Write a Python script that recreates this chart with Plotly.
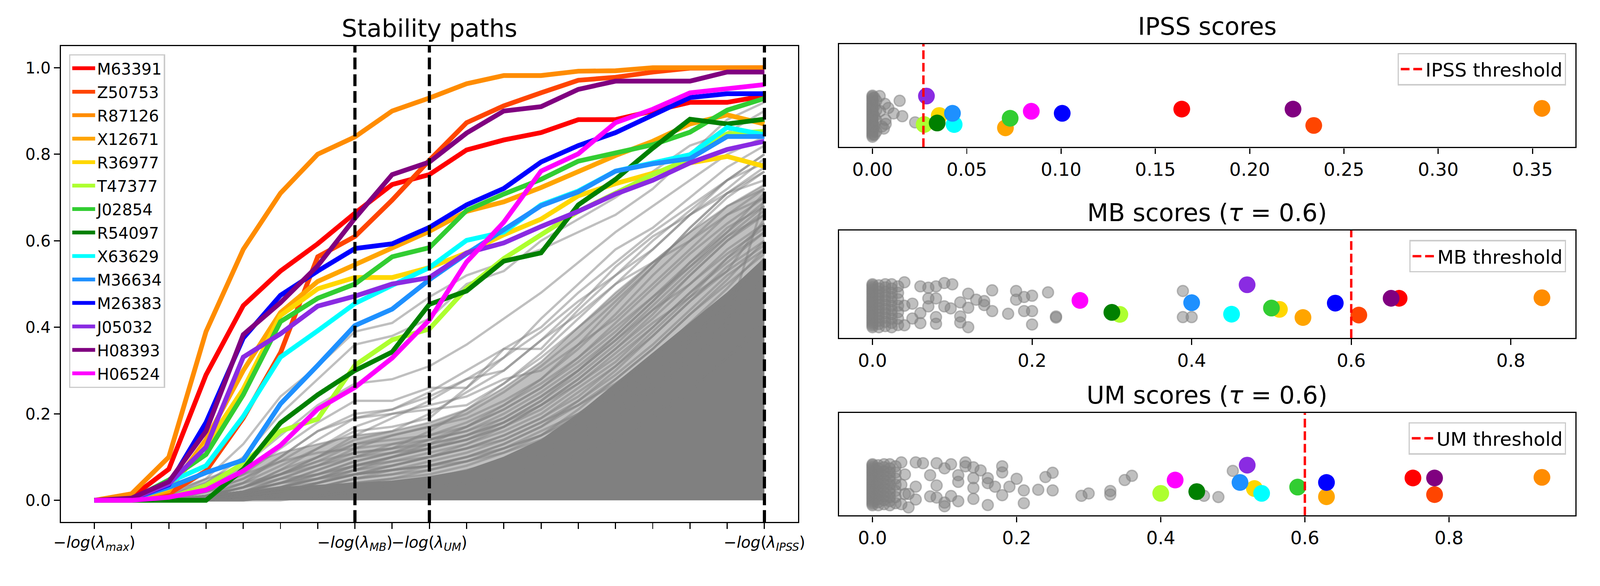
import plotly.graph_objects as go

# ---------------- data ----------------
lambda_idx = list(range(19))
tick_labels = ["−<i>log</i>(<i>λ</i><sub><i>max</i></sub>)", "", "", "", "", "", "",
               "−<i>log</i>(<i>λ</i><sub><i>MB</i></sub>)", "",
               "−<i>log</i>(<i>λ</i><sub><i>UM</i></sub>)", "", "", "", "", "", "", "", "",
               "−<i>log</i>(<i>λ</i><sub><i>IPSS</i></sub>)"]
vline_idx = [7, 9, 18]

genes = ["M63391", "Z50753", "R87126", "X12671", "R36977", "T47377", "J02854",
         "R54097", "X63629", "M36634", "M26383", "J05032", "H08393", "H06524"]
colors = ["red", "orangered", "darkorange", "orange", "gold", "greenyellow", "limegreen",
          "green", "cyan", "dodgerblue", "blue", "blueviolet", "purple", "magenta"]

# stability paths of the selected genes
path_M63391 = [0, 0.007, 0.072, 0.29, 0.45, 0.53, 0.593, 0.664, 0.73, 0.753, 0.81, 0.833, 0.85, 0.88, 0.88, 0.90, 0.92, 0.92, 0.935]
path_Z50753 = [0, 0.005, 0.015, 0.068, 0.19, 0.341, 0.563, 0.61, 0.694, 0.786, 0.873, 0.912, 0.942, 0.971, 0.978, 0.99, 0.999, 1.0, 1.0]
path_R87126 = [0, 0.015, 0.10, 0.39, 0.58, 0.71, 0.80, 0.84, 0.90, 0.93, 0.963, 0.982, 0.982, 0.992, 0.993, 1.0, 1.0, 1.0, 1.0]
path_X12671 = [0, 0.003, 0.022, 0.14, 0.30, 0.434, 0.506, 0.544, 0.584, 0.622, 0.668, 0.69, 0.723, 0.761, 0.797, 0.83, 0.87, 0.891, 0.87]
path_R36977 = [0, 0.003, 0.028, 0.127, 0.257, 0.427, 0.489, 0.515, 0.515, 0.538, 0.572, 0.614, 0.65, 0.704, 0.732, 0.755, 0.78, 0.795, 0.772]
path_T47377 = [0, 0, 0.005, 0.034, 0.085, 0.16, 0.188, 0.312, 0.371, 0.396, 0.49, 0.559, 0.614, 0.668, 0.71, 0.753, 0.79, 0.847, 0.853]
path_J02854 = [0, 0.002, 0.047, 0.106, 0.244, 0.413, 0.467, 0.50, 0.563, 0.584, 0.67, 0.708, 0.742, 0.784, 0.803, 0.822, 0.851, 0.902, 0.929]
path_R54097 = [0, 0, 0, 0.0, 0.072, 0.179, 0.244, 0.30, 0.343, 0.453, 0.484, 0.553, 0.572, 0.683, 0.742, 0.814, 0.881, 0.87, 0.881]
path_X63629 = [0, 0.003, 0.042, 0.08, 0.194, 0.331, 0.392, 0.455, 0.497, 0.538, 0.601, 0.62, 0.683, 0.715, 0.761, 0.78, 0.799, 0.862, 0.845]
path_M36634 = [0, 0.003, 0.03, 0.064, 0.093, 0.223, 0.312, 0.404, 0.442, 0.51, 0.57, 0.626, 0.681, 0.713, 0.761, 0.778, 0.79, 0.841, 0.841]
path_M26383 = [0, 0.003, 0.036, 0.18, 0.375, 0.474, 0.53, 0.582, 0.593, 0.631, 0.683, 0.721, 0.782, 0.82, 0.85, 0.891, 0.931, 0.94, 0.94]
path_J05032 = [0, 0.003, 0.038, 0.123, 0.331, 0.385, 0.449, 0.472, 0.50, 0.515, 0.572, 0.595, 0.633, 0.668, 0.708, 0.74, 0.78, 0.811, 0.83]
path_H08393 = [0, 0.005, 0.043, 0.16, 0.383, 0.457, 0.542, 0.652, 0.753, 0.782, 0.849, 0.90, 0.91, 0.95, 0.969, 0.969, 0.969, 0.99, 0.99]
path_H06524 = [0, 0, 0.007, 0.024, 0.068, 0.127, 0.211, 0.261, 0.329, 0.417, 0.551, 0.643, 0.761, 0.801, 0.873, 0.904, 0.942, 0.952, 0.961]
paths = [path_M63391, path_Z50753, path_R87126, path_X12671, path_R36977, path_T47377, path_J02854,
         path_R54097, path_X63629, path_M36634, path_M26383, path_J05032, path_H08393, path_H06524]

# the mass of non-selected paths: solid core and lighter haze above it
gray_core_top = [0, 0.002, 0.005, 0.01, 0.02, 0.03, 0.035, 0.04, 0.045, 0.055, 0.07, 0.10, 0.14, 0.20, 0.27, 0.34, 0.41, 0.48, 0.56]
gray_haze_top = [0, 0.005, 0.02, 0.05, 0.08, 0.11, 0.13, 0.15, 0.16, 0.18, 0.21, 0.26, 0.32, 0.40, 0.48, 0.55, 0.62, 0.68, 0.73]

# individual non-selected paths
gray_paths = [
    [0, 0, 0.01, 0.05, 0.13, 0.24, 0.31, 0.39, 0.41, 0.47, 0.52, 0.55, 0.58, 0.62, 0.66, 0.72, 0.80, 0.88, 0.92],
    [0, 0, 0.01, 0.04, 0.10, 0.20, 0.28, 0.36, 0.38, 0.42, 0.50, 0.53, 0.60, 0.65, 0.70, 0.76, 0.82, 0.85, 0.90],
    [0, 0, 0, 0.02, 0.06, 0.12, 0.18, 0.23, 0.23, 0.26, 0.26, 0.33, 0.42, 0.50, 0.58, 0.63, 0.70, 0.77, 0.82],
    [0, 0, 0, 0.02, 0.05, 0.10, 0.16, 0.20, 0.21, 0.25, 0.30, 0.35, 0.40, 0.48, 0.55, 0.62, 0.68, 0.74, 0.80],
    [0, 0, 0, 0.01, 0.04, 0.08, 0.12, 0.16, 0.17, 0.19, 0.26, 0.35, 0.35, 0.44, 0.52, 0.60, 0.67, 0.74, 0.78],
    [0, 0, 0, 0.01, 0.04, 0.10, 0.16, 0.19, 0.20, 0.21, 0.22, 0.27, 0.33, 0.40, 0.47, 0.55, 0.62, 0.70, 0.76],
    [0, 0, 0, 0.01, 0.03, 0.06, 0.10, 0.14, 0.16, 0.20, 0.25, 0.30, 0.37, 0.45, 0.54, 0.61, 0.66, 0.71, 0.74],
    [0, 0, 0, 0.01, 0.03, 0.07, 0.12, 0.17, 0.20, 0.22, 0.24, 0.28, 0.30, 0.36, 0.42, 0.50, 0.58, 0.66, 0.72],
    [0, 0, 0, 0.01, 0.02, 0.05, 0.08, 0.12, 0.15, 0.17, 0.19, 0.23, 0.28, 0.35, 0.43, 0.52, 0.60, 0.68, 0.72],
    [0, 0, 0, 0, 0.02, 0.04, 0.07, 0.10, 0.13, 0.15, 0.18, 0.22, 0.27, 0.33, 0.41, 0.49, 0.57, 0.64, 0.70],
    [0, 0, 0, 0.01, 0.02, 0.05, 0.08, 0.11, 0.12, 0.14, 0.16, 0.20, 0.25, 0.31, 0.38, 0.46, 0.55, 0.63, 0.68],
    [0, 0, 0, 0, 0.01, 0.03, 0.06, 0.09, 0.11, 0.13, 0.15, 0.18, 0.23, 0.29, 0.36, 0.44, 0.52, 0.60, 0.66],
    [0, 0, 0, 0, 0.01, 0.03, 0.05, 0.08, 0.10, 0.12, 0.14, 0.17, 0.22, 0.28, 0.35, 0.42, 0.50, 0.58, 0.64],
    [0, 0, 0, 0, 0.01, 0.02, 0.04, 0.06, 0.08, 0.10, 0.13, 0.17, 0.22, 0.27, 0.33, 0.40, 0.48, 0.56, 0.62],
    [0, 0, 0, 0, 0.01, 0.02, 0.04, 0.06, 0.08, 0.10, 0.12, 0.15, 0.19, 0.25, 0.31, 0.38, 0.46, 0.54, 0.60],
    [0, 0, 0, 0.01, 0.02, 0.04, 0.07, 0.10, 0.12, 0.16, 0.21, 0.27, 0.34, 0.42, 0.50, 0.58, 0.66, 0.74, 0.80],
    [0, 0, 0.01, 0.03, 0.08, 0.15, 0.22, 0.27, 0.28, 0.31, 0.36, 0.42, 0.48, 0.55, 0.62, 0.68, 0.74, 0.80, 0.84],
    [0, 0, 0, 0.01, 0.03, 0.06, 0.09, 0.13, 0.15, 0.17, 0.20, 0.25, 0.31, 0.38, 0.46, 0.54, 0.63, 0.71, 0.77],
    [0, 0, 0, 0, 0.02, 0.04, 0.06, 0.09, 0.11, 0.14, 0.17, 0.21, 0.26, 0.32, 0.39, 0.47, 0.55, 0.62, 0.69],
    [0, 0, 0, 0, 0.01, 0.02, 0.03, 0.05, 0.07, 0.09, 0.11, 0.14, 0.18, 0.23, 0.29, 0.36, 0.44, 0.52, 0.58],
    [0, 0, 0, 0.01, 0.03, 0.06, 0.10, 0.15, 0.19, 0.23, 0.28, 0.33, 0.39, 0.46, 0.52, 0.58, 0.66, 0.72, 0.79],
    [0, 0, 0, 0, 0.01, 0.02, 0.04, 0.07, 0.10, 0.13, 0.17, 0.22, 0.28, 0.36, 0.45, 0.54, 0.63, 0.71, 0.76],
    [0, 0, 0, 0, 0.01, 0.02, 0.03, 0.05, 0.06, 0.08, 0.10, 0.13, 0.17, 0.22, 0.28, 0.35, 0.43, 0.50, 0.57],
    [0, 0, 0.01, 0.02, 0.05, 0.09, 0.14, 0.19, 0.21, 0.24, 0.28, 0.30, 0.37, 0.43, 0.50, 0.55, 0.60, 0.66, 0.70],
    [0, 0, 0, 0.01, 0.02, 0.03, 0.05, 0.07, 0.09, 0.11, 0.13, 0.16, 0.20, 0.26, 0.32, 0.40, 0.48, 0.55, 0.62],
    [0, 0, 0, 0, 0.01, 0.02, 0.03, 0.04, 0.05, 0.06, 0.08, 0.11, 0.15, 0.21, 0.28, 0.35, 0.43, 0.51, 0.60],
    [0, 0, 0.005, 0.02, 0.04, 0.06, 0.08, 0.10, 0.11, 0.12, 0.14, 0.17, 0.21, 0.27, 0.34, 0.41, 0.47, 0.53, 0.65],
    [0, 0, 0, 0.01, 0.03, 0.05, 0.06, 0.08, 0.09, 0.10, 0.12, 0.14, 0.18, 0.22, 0.27, 0.33, 0.40, 0.47, 0.54],
    [0, 0, 0, 0, 0.01, 0.02, 0.03, 0.04, 0.05, 0.07, 0.09, 0.12, 0.16, 0.20, 0.25, 0.31, 0.38, 0.45, 0.52],
    [0, 0, 0, 0, 0, 0.01, 0.02, 0.03, 0.04, 0.05, 0.07, 0.09, 0.12, 0.16, 0.21, 0.27, 0.34, 0.42, 0.50],
    [0, 0, 0.01, 0.03, 0.06, 0.09, 0.11, 0.12, 0.13, 0.14, 0.16, 0.19, 0.24, 0.30, 0.37, 0.44, 0.50, 0.57, 0.63],
    [0, 0, 0, 0.01, 0.02, 0.04, 0.06, 0.08, 0.10, 0.12, 0.15, 0.19, 0.24, 0.30, 0.37, 0.45, 0.53, 0.61, 0.68],
    [0, 0, 0, 0, 0.01, 0.03, 0.05, 0.07, 0.08, 0.10, 0.12, 0.15, 0.19, 0.24, 0.31, 0.39, 0.47, 0.56, 0.64],
    [0, 0, 0, 0, 0, 0.01, 0.01, 0.02, 0.03, 0.04, 0.05, 0.07, 0.10, 0.14, 0.19, 0.25, 0.32, 0.40, 0.48],
    [0, 0, 0, 0.01, 0.02, 0.03, 0.04, 0.06, 0.07, 0.08, 0.10, 0.13, 0.17, 0.23, 0.30, 0.38, 0.46, 0.53, 0.59],
    [0, 0, 0, 0, 0.01, 0.02, 0.02, 0.03, 0.04, 0.05, 0.06, 0.08, 0.11, 0.15, 0.20, 0.26, 0.33, 0.41, 0.70],
    [0, 0, 0.005, 0.01, 0.03, 0.06, 0.09, 0.11, 0.12, 0.13, 0.15, 0.18, 0.22, 0.28, 0.35, 0.43, 0.52, 0.60, 0.67],
    [0, 0, 0, 0, 0.01, 0.02, 0.04, 0.06, 0.07, 0.08, 0.09, 0.11, 0.14, 0.18, 0.23, 0.29, 0.36, 0.44, 0.51],
    [0, 0, 0, 0.005, 0.01, 0.02, 0.03, 0.05, 0.06, 0.07, 0.09, 0.12, 0.15, 0.19, 0.24, 0.30, 0.37, 0.46, 0.56],
    [0, 0, 0, 0, 0, 0, 0.01, 0.02, 0.02, 0.03, 0.04, 0.05, 0.07, 0.10, 0.14, 0.19, 0.25, 0.33, 0.42],
    [0, 0, 0, 0.01, 0.03, 0.07, 0.10, 0.13, 0.14, 0.15, 0.17, 0.21, 0.26, 0.33, 0.40, 0.47, 0.54, 0.61, 0.66],
    [0, 0, 0, 0, 0.01, 0.03, 0.05, 0.08, 0.10, 0.12, 0.14, 0.18, 0.23, 0.30, 0.38, 0.46, 0.54, 0.62, 0.71],
    [0, 0, 0, 0.01, 0.02, 0.04, 0.05, 0.06, 0.07, 0.08, 0.10, 0.12, 0.15, 0.20, 0.26, 0.33, 0.41, 0.49, 0.58],
    [0, 0, 0, 0, 0, 0.01, 0.01, 0.02, 0.03, 0.03, 0.04, 0.06, 0.08, 0.11, 0.15, 0.20, 0.26, 0.33, 0.40],
]

# scores of the selected genes (same order as genes) and their vertical jitter
ipss_scores = [0.164, 0.234, 0.355, 0.0705, 0.0354, 0.0274, 0.073, 0.0343, 0.0433, 0.0424, 0.1006, 0.0286, 0.223, 0.0842]
ipss_jitter = [0.369, 0.21, 0.376, 0.187, 0.307, 0.219, 0.28, 0.234, 0.219, 0.328, 0.328, 0.496, 0.369, 0.348]
mb_scores = [0.66, 0.6095, 0.839, 0.5395, 0.51, 0.31, 0.50, 0.30, 0.45, 0.40, 0.58, 0.4695, 0.65, 0.26]
mb_jitter = [0.369, 0.213, 0.374, 0.19, 0.266, 0.219, 0.278, 0.238, 0.221, 0.328, 0.324, 0.495, 0.369, 0.349]
um_scores = [0.75, 0.78, 0.929, 0.63, 0.53, 0.40, 0.59, 0.45, 0.54, 0.51, 0.63, 0.52, 0.78, 0.42]
um_jitter = [0.366, 0.204, 0.372, 0.183, 0.263, 0.216, 0.277, 0.233, 0.216, 0.322, 0.322, 0.491, 0.366, 0.346]

ipss_threshold = 0.027
mb_threshold = 0.6
um_threshold = 0.6

# genes scoring (almost) zero: stacked column at the left of every score panel
zero_col = [(0, 0.10), (0, 0.115), (0, 0.13), (0, 0.145), (0, 0.16), (0, 0.175), (0, 0.19), (0, 0.205),
            (0, 0.22), (0, 0.235), (0, 0.25), (0, 0.265), (0, 0.28), (0, 0.295), (0, 0.31), (0, 0.325),
            (0, 0.34), (0, 0.355), (0, 0.37), (0, 0.385), (0, 0.40), (0, 0.415), (0, 0.43), (0, 0.445),
            (0, 0.46), (0, 0.475), (0, 0.49), (0, 0.50)]
low_col = [(0.008, 0.10), (0.008, 0.13), (0.008, 0.16), (0.008, 0.19), (0.008, 0.22), (0.008, 0.25),
           (0.008, 0.28), (0.008, 0.31), (0.008, 0.34), (0.008, 0.37), (0.008, 0.40), (0.008, 0.43),
           (0.008, 0.46), (0.008, 0.49), (0.016, 0.11), (0.016, 0.15), (0.016, 0.19), (0.016, 0.23),
           (0.016, 0.27), (0.016, 0.31), (0.016, 0.35), (0.016, 0.39), (0.016, 0.43), (0.016, 0.47),
           (0.016, 0.50), (0.024, 0.10), (0.024, 0.14), (0.024, 0.18), (0.024, 0.22), (0.024, 0.26),
           (0.024, 0.30), (0.024, 0.34), (0.024, 0.38), (0.024, 0.42), (0.024, 0.46), (0.024, 0.50),
           (0.032, 0.12), (0.032, 0.18), (0.032, 0.24), (0.032, 0.30), (0.032, 0.36), (0.032, 0.42),
           (0.032, 0.48)]

# other genes with non-zero scores (score, jitter)
ipss_gray = [(0.001, 0.12), (0.001, 0.20), (0.001, 0.30), (0.001, 0.40), (0.001, 0.48), (0.002, 0.15),
             (0.002, 0.26), (0.002, 0.36), (0.002, 0.45), (0.0038, 0.496), (0.0144, 0.45), (0.0066, 0.42),
             (0.0084, 0.38), (0.0112, 0.327), (0.0158, 0.30), (0.0069, 0.265), (0.0226, 0.24),
             (0.007, 0.225), (0.005, 0.20), (0.006, 0.18), (0.004, 0.35)]
mb_gray = [(0.04, 0.118), (0.04, 0.518), (0.04, 0.30), (0.05, 0.319), (0.05, 0.181), (0.06, 0.48),
           (0.06, 0.231), (0.06, 0.138), (0.07, 0.468), (0.07, 0.368), (0.07, 0.294), (0.0796, 0.48),
           (0.0796, 0.368), (0.0796, 0.194), (0.0796, 0.132), (0.09, 0.511), (0.09, 0.294), (0.10, 0.499),
           (0.098, 0.275), (0.11, 0.331), (0.11, 0.20), (0.11, 0.144), (0.12, 0.412), (0.12, 0.281),
           (0.12, 0.10), (0.13, 0.356), (0.14, 0.343), (0.14, 0.306), (0.15, 0.443), (0.15, 0.25),
           (0.17, 0.225), (0.18, 0.437), (0.18, 0.356), (0.19, 0.381), (0.20, 0.393), (0.19, 0.25),
           (0.20, 0.25), (0.20, 0.125), (0.22, 0.424), (0.23, 0.20), (0.23, 0.19), (0.389, 0.437),
           (0.389, 0.194), (0.40, 0.194)]
um_gray = [(0.04, 0.11), (0.04, 0.518), (0.04, 0.30), (0.045, 0.21), (0.045, 0.40), (0.05, 0.079),
           (0.05, 0.21), (0.06, 0.518), (0.06, 0.281), (0.06, 0.156), (0.07, 0.51), (0.08, 0.393),
           (0.08, 0.186), (0.089, 0.51), (0.089, 0.293), (0.089, 0.175), (0.10, 0.46), (0.10, 0.126),
           (0.10, 0.09), (0.109, 0.50), (0.109, 0.19), (0.119, 0.393), (0.119, 0.328), (0.119, 0.139),
           (0.129, 0.518), (0.129, 0.48), (0.14, 0.47), (0.14, 0.364), (0.14, 0.269), (0.14, 0.162),
           (0.15, 0.44), (0.16, 0.364), (0.16, 0.316), (0.16, 0.102), (0.17, 0.281), (0.18, 0.48),
           (0.18, 0.42), (0.18, 0.198), (0.19, 0.281), (0.20, 0.358), (0.21, 0.245), (0.21, 0.12),
           (0.23, 0.251), (0.24, 0.375), (0.25, 0.417), (0.25, 0.245), (0.29, 0.192), (0.30, 0.215),
           (0.33, 0.239), (0.33, 0.204), (0.35, 0.346), (0.36, 0.387), (0.46, 0.192), (0.48, 0.18),
           (0.50, 0.435)]

# ---------------- figure ----------------
FONT = "DejaVu Sans"
W, H = 4200, 1500
GRAY_LINE = "rgba(128,128,128,0.5)"

fig = go.Figure()

# background mass of paths
fig.add_trace(go.Scatter(x=lambda_idx, y=gray_core_top, mode="lines", fill="tozeroy",
                         fillcolor="rgb(128,128,128)", line=dict(color="rgb(128,128,128)", width=2),
                         showlegend=False, hoverinfo="skip", xaxis="x", yaxis="y"))
fig.add_trace(go.Scatter(x=lambda_idx, y=gray_haze_top, mode="lines", fill="tonexty",
                         fillcolor="rgba(128,128,128,0.5)", line=dict(color=GRAY_LINE, width=5),
                         showlegend=False, hoverinfo="skip", xaxis="x", yaxis="y"))
for gp in gray_paths:
    fig.add_trace(go.Scatter(x=lambda_idx, y=gp, mode="lines", line=dict(color=GRAY_LINE, width=6),
                             showlegend=False, hoverinfo="skip", xaxis="x", yaxis="y"))

for g, c, p in zip(genes, colors, paths):
    fig.add_trace(go.Scatter(x=lambda_idx, y=p, mode="lines", name=g, legendgroup=g,
                             line=dict(color=c, width=12.5), xaxis="x", yaxis="y", legend="legend"))

for v in vline_idx:
    fig.add_trace(go.Scatter(x=[v, v], y=[-0.05, 1.05], mode="lines",
                             line=dict(color="black", width=8.3, dash="31px,13px"),
                             showlegend=False, hoverinfo="skip", xaxis="x", yaxis="y"))

# score panels
panels = [
    ("x2", "y2", "legend2", zero_col + ipss_gray, ipss_scores, ipss_jitter, ipss_threshold, "IPSS threshold"),
    ("x3", "y3", "legend3", zero_col + low_col + mb_gray, mb_scores, mb_jitter, mb_threshold, "MB threshold"),
    ("x4", "y4", "legend4", zero_col + low_col + um_gray, um_scores, um_jitter, um_threshold, "UM threshold"),
]
for xa, ya, lg, gray_pts, scores, jitter, thr, lbl in panels:
    fig.add_trace(go.Scatter(x=[p[0] for p in gray_pts], y=[p[1] for p in gray_pts], mode="markers",
                             marker=dict(size=29, color="rgba(128,128,128,0.5)",
                                         line=dict(color="rgba(128,128,128,0.5)", width=3.5)),
                             showlegend=False, hoverinfo="skip", xaxis=xa, yaxis=ya))
    fig.add_trace(go.Scatter(x=scores, y=jitter, mode="markers",
                             marker=dict(size=44, color=colors, line=dict(width=0)),
                             text=genes, showlegend=False, xaxis=xa, yaxis=ya))
    fig.add_trace(go.Scatter(x=[thr, thr], y=[0, 1], mode="lines", name=lbl,
                             line=dict(color="red", width=6.2, dash="23px,10px"),
                             xaxis=xa, yaxis=ya, legend=lg))


def span(vals):
    hi = max(vals)
    return [-0.05 * hi, 1.05 * hi]


axis_common = dict(showline=True, mirror=True, linecolor="black", linewidth=3.3, showgrid=False,
                   zeroline=False, ticks="outside", ticklen=15, tickwidth=3.3, tickcolor="black",
                   tickangle=0)
xr = [0.5245, 0.98905]
legend_box = dict(bgcolor="rgba(255,255,255,0.8)", bordercolor="#cccccc", borderwidth=3.3, itemwidth=60)

fig.update_layout(
    width=W, height=H,
    margin=dict(l=0, r=0, t=0, b=0),
    paper_bgcolor="white", plot_bgcolor="white",
    font=dict(family=FONT, color="black"),
    xaxis=dict(domain=[0.03357, 0.49857], range=[-0.9, 18.9], tickmode="array",
               tickvals=lambda_idx, ticktext=tick_labels, tickfont=dict(size=41),
               anchor="y", **axis_common),
    yaxis=dict(domain=[0.08667, 0.91933], range=[-0.05, 1.05], tickmode="array",
               tickvals=[0, 0.2, 0.4, 0.6, 0.8, 1.0], tickformat=".1f", tickfont=dict(size=42),
               anchor="x", **axis_common),
    xaxis2=dict(domain=xr, range=span(ipss_scores), tickmode="array",
                tickvals=[0, 0.05, 0.1, 0.15, 0.2, 0.25, 0.3, 0.35], tickformat=".2f",
                tickfont=dict(size=48), anchor="y2", **axis_common),
    yaxis2=dict(domain=[0.74267, 0.92267], range=[0, 1], showticklabels=False, anchor="x2",
                **{**axis_common, "ticks": ""}),
    xaxis3=dict(domain=xr, range=span(mb_scores), tickmode="array",
                tickvals=[0, 0.2, 0.4, 0.6, 0.8], tickformat=".1f",
                tickfont=dict(size=48), anchor="y3", **axis_common),
    yaxis3=dict(domain=[0.40867, 0.59667], range=[0, 1], showticklabels=False, anchor="x3",
                **{**axis_common, "ticks": ""}),
    xaxis4=dict(domain=xr, range=span(um_scores), tickmode="array",
                tickvals=[0, 0.2, 0.4, 0.6, 0.8], tickformat=".1f",
                tickfont=dict(size=48), anchor="y4", **axis_common),
    yaxis4=dict(domain=[0.098, 0.27733], range=[0, 1], showticklabels=False, anchor="x4",
                **{**axis_common, "ticks": ""}),
    legend=dict(x=0.0388, y=0.9053, xanchor="left", yanchor="top", font=dict(size=42),
                tracegroupgap=4, **legend_box),
    legend2=dict(x=0.9831, y=0.9073, xanchor="right", yanchor="top", font=dict(size=50), **legend_box),
    legend3=dict(x=0.9831, y=0.58, xanchor="right", yanchor="top", font=dict(size=50), **legend_box),
    legend4=dict(x=0.9831, y=0.2613, xanchor="right", yanchor="top", font=dict(size=50), **legend_box),
)

titles = [
    ("Stability paths", (0.03357 + 0.49857) / 2, 0.91933),
    ("IPSS scores", sum(xr) / 2, 0.92267),
    ("MB scores (<i>τ</i> = 0.6)", sum(xr) / 2, 0.59667),
    ("UM scores (<i>τ</i> = 0.6)", sum(xr) / 2, 0.27733),
]
for txt, xc, ytop in titles:
    fig.add_annotation(text=txt, x=xc, y=ytop + 8 / H, xref="paper", yref="paper",
                       xanchor="center", yanchor="bottom", showarrow=False,
                       font=dict(size=64, family=FONT, color="black"))

# scale the whole 4200x1500 page uniformly so that it fits the width of the window
fit_js = ("document.body.style.margin='0';"
          "document.documentElement.style.overflow='hidden';"
          "document.body.style.zoom=String(window.innerWidth/%d);" % W)

fig.write_html("out.html", post_script=fit_js, config={"displayModeBar": False})
